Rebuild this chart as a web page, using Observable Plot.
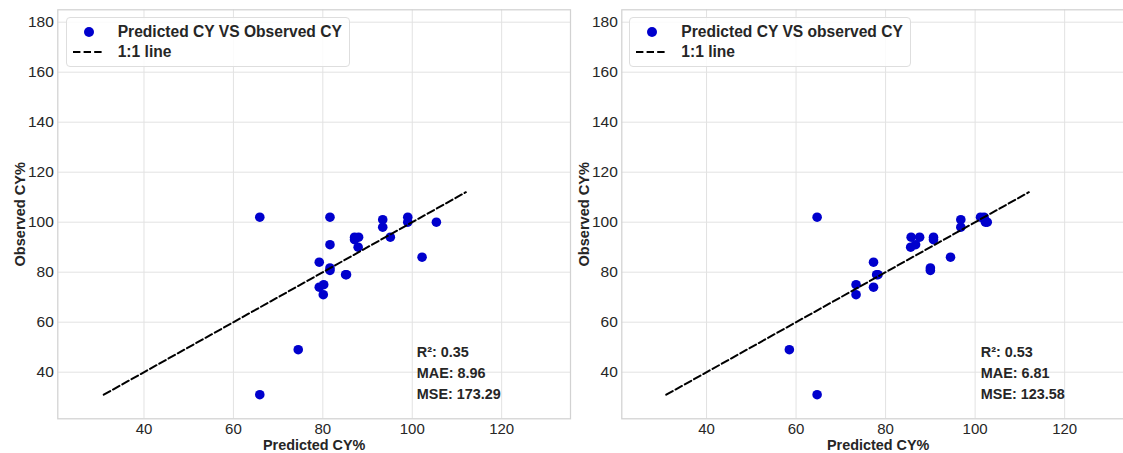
<!DOCTYPE html>
<html><head><meta charset="utf-8">
<script src="https://cdn.jsdelivr.net/npm/d3@7"></script>
<script src="https://cdn.jsdelivr.net/npm/@observablehq/plot@0.6"></script>
<style>
html,body{margin:0;padding:0;background:#fff;overflow:hidden;}
#wrap{position:relative;width:1123px;height:453px;overflow:hidden;font-family:"Liberation Sans",Arial,sans-serif;}
.panel{position:absolute;top:0;}
.panel svg{max-width:none;background:transparent;}
.legend{position:absolute;top:17.3px;box-sizing:border-box;border:1px solid #dedede;border-radius:4px;background:rgba(255,255,255,0.85);font-weight:bold;font-size:15.6px;color:#262626;padding:3px 7px 3px 6px;}
.row{display:flex;align-items:center;height:20.7px;white-space:nowrap;}
.sym{width:45px;flex:none;position:relative;height:20.7px;}
.dot{position:absolute;left:11px;top:5.5px;width:10px;height:10px;border-radius:50%;background:#0000cd;}
.sym svg{position:absolute;left:0;top:8.5px;}
</style></head>
<body><div id="wrap"></div>
<script>
const observed = [102, 102, 102, 101, 100, 100, 98, 94, 94, 94, 93, 91, 90, 86, 84, 81.7, 80.7, 79, 79, 75, 74, 71, 49, 31];
const predictedA = [65.9, 81.6, 99.0, 93.4, 99.0, 105.4, 93.4, 95.1, 87.1, 88.0, 87.1, 81.6, 87.9, 102.2, 79.2, 81.6, 81.6, 85.1, 85.3, 80.2, 79.2, 80.1, 74.5, 65.9];
const predictedB = [64.7, 101.2, 102.0, 96.8, 102.3, 102.7, 96.8, 85.7, 87.6, 90.7, 90.7, 86.7, 85.6, 94.5, 77.3, 90.0, 90.0, 78.3, 78.0, 73.4, 77.3, 73.4, 58.5, 64.7];
const xTicks = [40, 60, 80, 100, 120];
const yTicks = [40, 60, 80, 100, 120, 140, 160, 180];
const lineEnds = [31, 112];
const legendLabels = ["Predicted CY VS Observed CY", "Predicted CY VS observed CY"];
const lineLabel = "1:1 line";
const metricsA = ["R²: 0.35", "MAE: 8.96", "MSE: 173.29"];
const metricsB = ["R²: 0.53", "MAE: 6.81", "MSE: 123.58"];
const xLabel = "Predicted CY%";
const yLabel = "Observed CY%";

const FONT = '"Liberation Sans", Arial, sans-serif';
const INK = "#262626";

function panel(pred, metrics, xDomain) {
  const data = pred.map((p, i) => ({p, o: observed[i]}));
  const line = lineEnds.map(v => ({v}));
  return Plot.plot({
    width: 590, height: 453,
    marginLeft: 57.3, marginRight: 20, marginTop: 9.3, marginBottom: 34.7,
    x: {domain: xDomain},
    y: {domain: [21.36, 184.96]},
    style: {background: "transparent", fontFamily: FONT, fontSize: "15px", color: INK, overflow: "visible"},
    marks: [
      Plot.gridX(xTicks, {stroke: "#e2e2e2", strokeOpacity: 1, strokeWidth: 1}),
      Plot.gridY(yTicks, {stroke: "#e2e2e2", strokeOpacity: 1, strokeWidth: 1}),
      Plot.frame({stroke: "#d2d2d2", strokeWidth: 1.25}),
      Plot.axisX(xTicks, {tickSize: 0, tickPadding: 5, label: null, fontSize: 15, fill: INK}),
      Plot.axisY(yTicks, {tickSize: 0, tickPadding: 4, label: null, fontSize: 15.5, fill: INK}),
      Plot.dot(data, {x: "p", y: "o", r: 4.8, fill: "#0000cd", stroke: null}),
      Plot.line(line, {x: "v", y: "v", stroke: "black", strokeWidth: 2, strokeDasharray: "7.4,3.2"}),
      Plot.text([metrics.join("\n")], {frameAnchor: "bottom-left", textAnchor: "start", lineAnchor: "bottom", dx: 359, dy: -20, lineHeight: 1.44, fontWeight: "bold", fontSize: 14.4, fill: INK}),
      Plot.text([xLabel], {frameAnchor: "bottom", lineAnchor: "bottom", dy: 31.5, fontWeight: "bold", fontSize: 14.4, fill: INK}),
      Plot.text([yLabel], {frameAnchor: "left", textAnchor: "middle", lineAnchor: "bottom", rotate: -90, dx: -33, fontWeight: "bold", fontSize: 14.6, fill: INK})
    ]
  });
}

function legend(label, left) {
  const d = document.createElement("div");
  d.className = "legend";
  d.style.left = left + "px";
  d.innerHTML = `<div class="row"><span class="sym"><span class="dot"></span></span><span>${label}</span></div>
  <div class="row"><span class="sym"><svg width="30" height="4"><line x1="0" y1="2" x2="30" y2="2" stroke="#000" stroke-width="2" stroke-dasharray="7.4,3.2"/></svg></span><span>${lineLabel}</span></div>`;
  return d;
}

const wrap = document.getElementById("wrap");
const pA = document.createElement("div"); pA.className = "panel"; pA.style.left = "0px";
pA.appendChild(panel(predictedA, metricsA, [20.72, 135.4]));
const pB = document.createElement("div"); pB.className = "panel"; pB.style.left = "564px";
pB.appendChild(panel(predictedB, metricsB, [21.07, 135.6]));
wrap.appendChild(pA);
wrap.appendChild(pB);
wrap.appendChild(legend(legendLabels[0], 65.7));
wrap.appendChild(legend(legendLabels[1], 629.3));
</script></body></html>
